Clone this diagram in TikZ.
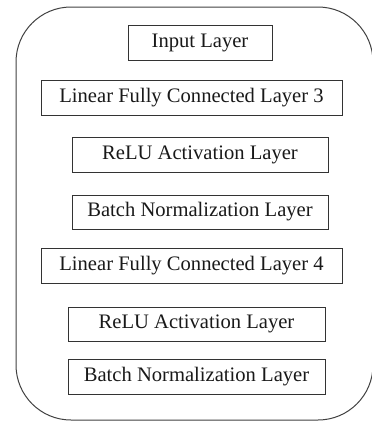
\documentclass[tikz,border=0pt]{standalone}
\usepackage{fontspec}
\setmainfont{Liberation Serif}
\begin{document}
\begin{tikzpicture}[x=1pt, y=-1pt,
  layerbox/.style={draw=black!80, line width=0.9pt, inner sep=0pt, font=\fontsize{20.6}{24}\selectfont, text=black!90}]
% Fix the canvas to the reference size
\useasboundingbox (0, 0) rectangle (372, 421);

% Outer rounded frame
\draw[black!75, line width=1pt, rounded corners=55pt] (16, 7) rectangle (373, 420);

% Layers, top to bottom
\node[layerbox, minimum width=144pt, minimum height=35pt] (input) at (200, 42.5) {Input Layer};
\node[layerbox, minimum width=301pt, minimum height=35pt] (fc3) at (191.5, 97.5) {Linear Fully Connected Layer 3};
\node[layerbox, minimum width=256pt, minimum height=35pt] (relu3) at (200, 154.5) {ReLU Activation Layer};
\node[layerbox, minimum width=256pt, minimum height=34pt] (bn3) at (200, 212) {Batch Normalization Layer};
\node[layerbox, minimum width=301pt, minimum height=35pt] (fc4) at (191.5, 265.5) {Linear Fully Connected Layer 4};
\node[layerbox, minimum width=257pt, minimum height=34pt] (relu4) at (196.5, 324) {ReLU Activation Layer};
\node[layerbox, minimum width=257pt, minimum height=35pt] (bn4) at (196.5, 376.5) {Batch Normalization Layer};
\end{tikzpicture}
\end{document}
